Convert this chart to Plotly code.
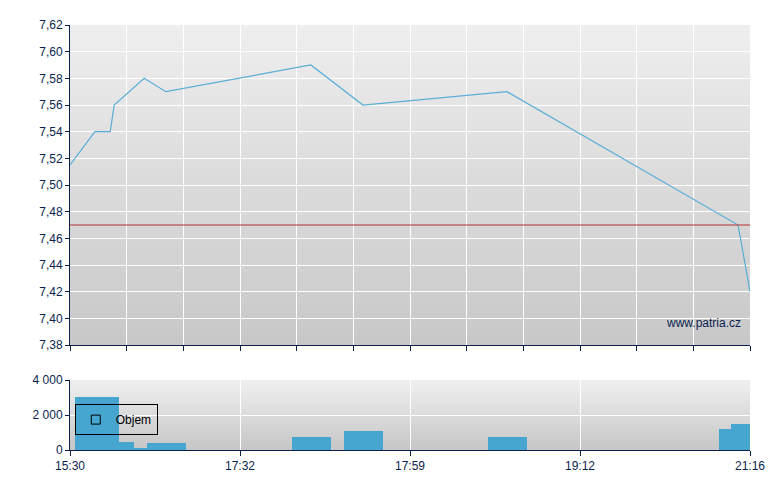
import plotly.graph_objects as go

# ---- data ----
price_x = [0, 0.44, 0.71, 0.78, 1.31, 1.69, 4.25, 5.17, 7.71, 11.79, 12]
price_y = [7.515, 7.54, 7.54, 7.56, 7.58, 7.57, 7.59, 7.56, 7.57, 7.47, 7.42]
ref_price = 7.47

vol_start = [0.088, 0.865, 1.129, 1.359, 3.918, 4.835, 7.376, 11.453, 11.665]
vol_end = [0.865, 1.129, 1.359, 2.047, 4.606, 5.524, 8.065, 11.665, 12.0]
vol_values = [3050, 460, 60, 400, 740, 1090, 740, 1200, 1490]

tick_pos = [0, 3, 6, 9, 12]
tick_labels = ["15:30", "17:32", "17:59", "19:12", "21:16"]
grid_pos = list(range(0, 13))

price_ticks = [7.38, 7.40, 7.42, 7.44, 7.46, 7.48, 7.50, 7.52, 7.54, 7.56, 7.58, 7.60, 7.62]
vol_ticks = [0, 2000, 4000]

NAVY = "#0b1f4f"
FONT = "Liberation Sans, Arial, sans-serif"

fig = go.Figure()

fig.add_trace(go.Scatter(
    x=price_x, y=price_y, mode="lines",
    line=dict(color="#5aaed6", width=1.2),
    xaxis="x", yaxis="y", showlegend=False, hoverinfo="x+y",
))

centers = [(a + b) / 2 for a, b in zip(vol_start, vol_end)]
widths = [b - a for a, b in zip(vol_start, vol_end)]
fig.add_trace(go.Bar(
    x=centers, y=vol_values, width=widths,
    marker=dict(color="#46a6cf", line=dict(width=0)),
    xaxis="x2", yaxis="y2", showlegend=False, name="Objem",
))
# legend entry
fig.add_trace(go.Scatter(
    x=[None], y=[None], mode="markers", name="Objem",
    marker=dict(symbol="square-open", size=9, color="black", line=dict(width=1)),
    xaxis="x2", yaxis="y2", showlegend=True,
))

# gradient backgrounds (each strip overlaps the next so no seams show)
def gradient(refs, top, bottom, n=40):
    shapes = []
    for i in range(n):
        t = i / (n - 1)
        c = int(round(top + (bottom - top) * t))
        y1 = 1 - i / n
        y0 = max(0, 1 - (i + 2) / n)
        shapes.append(dict(
            type="rect", xref=refs[0] + " domain", yref=refs[1] + " domain",
            x0=0, x1=1, y0=y0, y1=y1,
            fillcolor=f"rgb({c},{c},{c})", line=dict(width=0), layer="below",
        ))
    return shapes

shapes = gradient(("x", "y"), 238, 200) + gradient(("x2", "y2"), 239, 199, 24)
shapes.append(dict(type="line", xref="x domain", yref="y", x0=0, x1=1,
                   y0=ref_price, y1=ref_price, line=dict(color="#b83030", width=1.2)))

fig.update_layout(
    width=780, height=490,
    margin=dict(l=70, r=30, t=25, b=40),
    paper_bgcolor="white", plot_bgcolor="rgba(0,0,0,0)",
    separators=", ",
    font=dict(family=FONT, size=12, color=NAVY),
    shapes=shapes,
    bargap=0,
    xaxis=dict(domain=[0, 1], range=[0, 12], anchor="y",
               tickvals=grid_pos, showticklabels=False,
               ticks="outside", ticklen=5, tickcolor=NAVY,
               showgrid=True, gridcolor="white", gridwidth=1,
               showline=True, linecolor=NAVY, linewidth=1, zeroline=False),
    yaxis=dict(domain=[0.247, 1], range=[7.38, 7.62], anchor="x",
               tickvals=price_ticks, tickformat=".2f",
               ticks="outside", ticklen=4, tickcolor=NAVY,
               showgrid=True, gridcolor="white", gridwidth=1,
               showline=True, linecolor=NAVY, linewidth=1, zeroline=False),
    xaxis2=dict(domain=[0, 1], range=[0, 12], anchor="y2",
                tickvals=tick_pos, ticktext=tick_labels,
                ticks="outside", ticklen=5, tickcolor=NAVY,
                showgrid=True, gridcolor="white", gridwidth=1,
                showline=True, linecolor=NAVY, linewidth=1, zeroline=False),
    yaxis2=dict(domain=[0, 0.1647], range=[0, 4000], anchor="x2",
                tickvals=vol_ticks, tickformat=",d",
                ticks="outside", ticklen=4, tickcolor=NAVY,
                showgrid=True, gridcolor="white", gridwidth=1,
                showline=True, linecolor=NAVY, linewidth=1, zeroline=False),
    legend=dict(x=0.007, y=0.108, xanchor="left", yanchor="top",
                bgcolor="rgba(0,0,0,0)", bordercolor="black", borderwidth=1,
                font=dict(family=FONT, size=12, color="black"),
                itemwidth=30, tracegroupgap=0),
    annotations=[dict(text="www.patria.cz", xref="x domain", yref="y domain",
                      x=0.99, y=0.04, xanchor="right", yanchor="bottom",
                      showarrow=False, font=dict(family=FONT, size=12, color=NAVY))],
)

# remove the default 8px page margin so the 780x490 figure fills the window
fig.write_html("out.html",
               config={"displayModeBar": False},
               post_script="document.body.style.margin='0';document.body.style.overflow='hidden';")
